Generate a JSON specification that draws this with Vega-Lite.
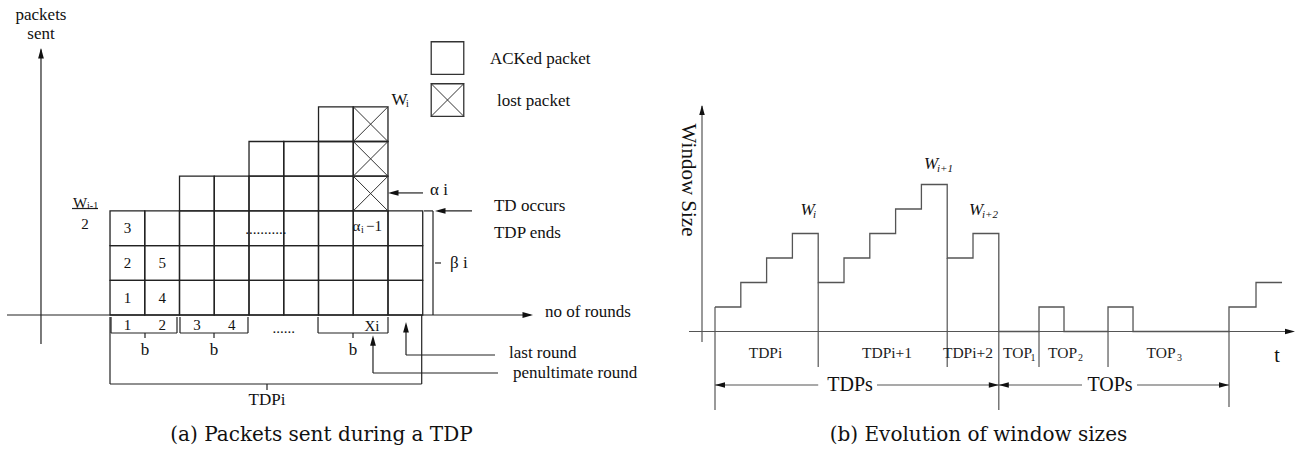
{
  "$schema": "https://vega.github.io/schema/vega-lite/v6.json",
  "padding": 0,
  "spacing": 0,
  "background": "white",
  "config": {"view": {"stroke": null}},
  "datasets": {
    "cells": [
      {"rnd":1,"pkt":1,"status":"ACKed"},{"rnd":1,"pkt":2,"status":"ACKed"},{"rnd":1,"pkt":3,"status":"ACKed"},
      {"rnd":2,"pkt":1,"status":"ACKed"},{"rnd":2,"pkt":2,"status":"ACKed"},{"rnd":2,"pkt":3,"status":"ACKed"},
      {"rnd":3,"pkt":1,"status":"ACKed"},{"rnd":3,"pkt":2,"status":"ACKed"},{"rnd":3,"pkt":3,"status":"ACKed"},{"rnd":3,"pkt":4,"status":"ACKed"},
      {"rnd":4,"pkt":1,"status":"ACKed"},{"rnd":4,"pkt":2,"status":"ACKed"},{"rnd":4,"pkt":3,"status":"ACKed"},{"rnd":4,"pkt":4,"status":"ACKed"},
      {"rnd":5,"pkt":1,"status":"ACKed"},{"rnd":5,"pkt":2,"status":"ACKed"},{"rnd":5,"pkt":3,"status":"ACKed"},{"rnd":5,"pkt":4,"status":"ACKed"},{"rnd":5,"pkt":5,"status":"ACKed"},
      {"rnd":6,"pkt":1,"status":"ACKed"},{"rnd":6,"pkt":2,"status":"ACKed"},{"rnd":6,"pkt":3,"status":"ACKed"},{"rnd":6,"pkt":4,"status":"ACKed"},{"rnd":6,"pkt":5,"status":"ACKed"},
      {"rnd":7,"pkt":1,"status":"ACKed"},{"rnd":7,"pkt":2,"status":"ACKed"},{"rnd":7,"pkt":3,"status":"ACKed"},{"rnd":7,"pkt":4,"status":"ACKed"},{"rnd":7,"pkt":5,"status":"ACKed"},{"rnd":7,"pkt":6,"status":"ACKed"},
      {"rnd":8,"pkt":1,"status":"ACKed"},{"rnd":8,"pkt":2,"status":"ACKed"},{"rnd":8,"pkt":3,"status":"ACKed"},{"rnd":8,"pkt":4,"status":"lost"},{"rnd":8,"pkt":5,"status":"lost"},{"rnd":8,"pkt":6,"status":"lost"},
      {"rnd":9,"pkt":1,"status":"ACKed"},{"rnd":9,"pkt":2,"status":"ACKed"},{"rnd":9,"pkt":3,"status":"ACKed"}
    ],
    "legendA": [
      {"rnd":10.212,"pkt":7.906,"status":"ACKed"},
      {"rnd":10.212,"pkt":6.696,"status":"lost"}
    ],
    "linesA": [
      {"rnd":-2.464,"pkt":0.5,"rnd2":12.6,"pkt2":0.5},
      {"rnd":-1.486,"pkt":-0.336,"rnd2":-1.486,"pkt2":8.15},
      {"rnd":0.529,"pkt":0.442,"rnd2":0.529,"pkt2":-0.019},
      {"rnd":0.529,"pkt":-0.019,"rnd2":2.428,"pkt2":-0.019},
      {"rnd":2.428,"pkt":0.442,"rnd2":2.428,"pkt2":-0.019},
      {"rnd":1.507,"pkt":-0.019,"rnd2":1.507,"pkt2":-0.163},
      {"rnd":2.514,"pkt":0.442,"rnd2":2.514,"pkt2":-0.019},
      {"rnd":2.514,"pkt":-0.019,"rnd2":4.471,"pkt2":-0.019},
      {"rnd":4.471,"pkt":0.442,"rnd2":4.471,"pkt2":-0.019},
      {"rnd":3.493,"pkt":-0.019,"rnd2":3.493,"pkt2":-0.163},
      {"rnd":6.486,"pkt":0.442,"rnd2":6.486,"pkt2":-0.019},
      {"rnd":6.486,"pkt":-0.019,"rnd2":8.5,"pkt2":-0.019},
      {"rnd":8.5,"pkt":0.442,"rnd2":8.5,"pkt2":-0.019},
      {"rnd":7.493,"pkt":-0.019,"rnd2":7.493,"pkt2":-0.163},
      {"rnd":0.5,"pkt":0.442,"rnd2":0.5,"pkt2":-1.488},
      {"rnd":0.5,"pkt":-1.488,"rnd2":9.47,"pkt2":-1.488},
      {"rnd":9.47,"pkt":0.5,"rnd2":9.47,"pkt2":-1.488},
      {"rnd":5.018,"pkt":-1.488,"rnd2":5.018,"pkt2":-1.661},
      {"rnd":9.536,"pkt":3.5,"rnd2":9.795,"pkt2":3.5},
      {"rnd":9.795,"pkt":3.5,"rnd2":9.795,"pkt2":0.5},
      {"rnd":9.853,"pkt":1.999,"rnd2":10.026,"pkt2":1.999},
      {"rnd":10.917,"pkt":3.5,"rnd2":9.95,"pkt2":3.5},
      {"rnd":9.507,"pkt":4.018,"rnd2":8.6,"pkt2":4.018},
      {"rnd":9.018,"pkt":-0.653,"rnd2":9.018,"pkt2":0.2},
      {"rnd":9.018,"pkt":-0.653,"rnd2":11.579,"pkt2":-0.653},
      {"rnd":8.068,"pkt":-1.171,"rnd2":8.068,"pkt2":-0.18},
      {"rnd":8.068,"pkt":-1.171,"rnd2":11.665,"pkt2":-1.171},
      {"rnd":-0.593,"pkt":3.569,"rnd2":0.155,"pkt2":3.569}
    ],
    "arrowsA": [
      {"rnd":12.672,"pkt":0.5,"dir":"right"},
      {"rnd":-1.486,"pkt":8.194,"dir":"up"},
      {"rnd":8.5,"pkt":4.018,"dir":"left"},
      {"rnd":9.853,"pkt":3.5,"dir":"left"},
      {"rnd":9.018,"pkt":0.298,"dir":"up"},
      {"rnd":8.068,"pkt":-0.082,"dir":"up"}
    ],
    "textA17L": [
      {"rnd":11.435,"pkt":7.878,"label":"ACKed packet"},
      {"rnd":11.637,"pkt":6.667,"label":"lost packet"},
      {"rnd":11.55,"pkt":3.641,"label":"TD occurs"},
      {"rnd":11.55,"pkt":2.863,"label":"TDP ends"},
      {"rnd":13.018,"pkt":0.586,"label":"no of rounds"},
      {"rnd":11.982,"pkt":-0.596,"label":"last round"},
      {"rnd":12.097,"pkt":-1.173,"label":"penultimate round"},
      {"rnd":10.284,"pkt":1.999,"label":"β i"},
      {"rnd":9.708,"pkt":4.102,"label":"α i"}
    ],
    "textA17C": [
      {"rnd":-1.486,"pkt":9.146,"label":"packets"},
      {"rnd":-1.486,"pkt":8.598,"label":"sent"},
      {"rnd":1.507,"pkt":-0.509,"label":"b"},
      {"rnd":3.493,"pkt":-0.509,"label":"b"},
      {"rnd":7.493,"pkt":-0.509,"label":"b"},
      {"rnd":5.018,"pkt":-1.95,"label":"TDPi"},
      {"rnd":8.83,"pkt":6.696,"label":"W"}
    ],
    "textA15C": [
      {"rnd":1,"pkt":1,"label":"1"},
      {"rnd":1,"pkt":2,"label":"2"},
      {"rnd":1,"pkt":3,"label":"3"},
      {"rnd":2,"pkt":1,"label":"4"},
      {"rnd":2,"pkt":2,"label":"5"},
      {"rnd":1,"pkt":0.212,"label":"1"},
      {"rnd":2,"pkt":0.212,"label":"2"},
      {"rnd":3,"pkt":0.212,"label":"3"},
      {"rnd":4,"pkt":0.212,"label":"4"},
      {"rnd":-0.219,"pkt":3.122,"label":"2"},
      {"rnd":-0.363,"pkt":3.728,"label":"W"},
      {"rnd":7.594,"pkt":3.065,"label":"α"},
      {"rnd":8.097,"pkt":3.065,"label":"−1"},
      {"rnd":5.5,"pkt":0.125,"label":"......"},
      {"rnd":4.989,"pkt":2.978,"label":"..........."},
      {"rnd":8.04,"pkt":0.183,"label":"Xi"}
    ],
    "subA": [
      {"rnd":9.018,"pkt":6.581,"label":"i"},
      {"rnd":-0.16,"pkt":3.641,"label":"i-1"},
      {"rnd":7.723,"pkt":2.95,"label":"i"}
    ],
    "captionA": [{"rnd":6.586,"pkt":-2.958,"label":"(a) Packets sent during a TDP"}],
    "window": [
      {"time":0,"win":1},{"time":1,"win":2},{"time":2,"win":3},{"time":3,"win":4},
      {"time":4,"win":2},{"time":5,"win":3},{"time":6,"win":4},{"time":7,"win":5},{"time":8,"win":6},
      {"time":9,"win":3},{"time":10,"win":4},{"time":11,"win":0},
      {"time":12.558,"win":1},{"time":13.527,"win":0},
      {"time":15.233,"win":1},{"time":16.202,"win":0},
      {"time":19.922,"win":1},{"time":20.969,"win":2},{"time":21.977,"win":2}
    ],
    "linesB": [
      {"time":-0.504,"win":-0.429,"time2":-0.504,"win2":9.2},
      {"time":-1.008,"win":0,"time2":22.4,"win2":0},
      {"time":0,"win":1,"time2":0,"win2":-3.204},
      {"time":4,"win":2,"time2":4,"win2":-1.449},
      {"time":9,"win":3,"time2":9,"win2":-1.449},
      {"time":11,"win":0,"time2":11,"win2":-3.204},
      {"time":12.558,"win":0,"time2":12.558,"win2":-1.449},
      {"time":15.233,"win":0,"time2":15.233,"win2":-1.449},
      {"time":19.922,"win":0,"time2":19.922,"win2":-3.082},
      {"time":0,"win":-2.184,"time2":4,"win2":-2.184},
      {"time":6.279,"win":-2.184,"time2":11,"win2":-2.184},
      {"time":11,"win":-2.184,"time2":14.225,"win2":-2.184},
      {"time":16.357,"win":-2.184,"time2":19.922,"win2":-2.184}
    ],
    "arrowsB": [
      {"time":-0.504,"win":9.245,"dir":"up"},
      {"time":22.481,"win":0,"dir":"right"},
      {"time":0,"win":-2.184,"dir":"left"},
      {"time":11,"win":-2.184,"dir":"right"},
      {"time":11,"win":-2.184,"dir":"left"},
      {"time":19.922,"win":-2.184,"dir":"right"}
    ],
    "textB15": [
      {"time":1.957,"win":-0.878,"label":"TDPi"},
      {"time":6.667,"win":-0.878,"label":"TDPi+1"},
      {"time":9.806,"win":-0.878,"label":"TDPi+2"},
      {"time":11.725,"win":-0.878,"label":"TOP"},
      {"time":13.469,"win":-0.878,"label":"TOP"},
      {"time":17.287,"win":-0.878,"label":"TOP"}
    ],
    "subB": [
      {"time":12.326,"win":-1.082,"label":"1"},
      {"time":14.167,"win":-1.082,"label":"2"},
      {"time":18.004,"win":-1.082,"label":"3"}
    ],
    "textB20": [
      {"time":21.783,"win":-1.0,"label":"t"},
      {"time":5.233,"win":-2.184,"label":"TDPs"},
      {"time":15.31,"win":-2.184,"label":"TOPs"}
    ],
    "ytitleB": [{"time":-1.047,"win":6.184,"label":"Window Size"}],
    "wlabels": [
      {"time":3.585,"win":4.959,"label":"W"},
      {"time":8.372,"win":6.837,"label":"W"},
      {"time":10.116,"win":4.959,"label":"W"}
    ],
    "wsubs": [
      {"time":3.798,"win":4.755,"label":"i"},
      {"time":8.605,"win":6.633,"label":"i+1"},
      {"time":10.349,"win":4.755,"label":"i+2"}
    ],
    "captionB": [{"time":10.213,"win":-4.224,"label":"(b) Evolution of window sizes"}]
  },
  "hconcat": [
    {
      "width": 648,
      "height": 452,
      "encoding": {
        "x": {"field":"rnd","type":"quantitative","scale":{"domain":[-2.6655,15.982],"nice":false,"zero":false},"axis":null},
        "y": {"field":"pkt","type":"quantitative","scale":{"domain":[-3.448,9.578],"nice":false,"zero":false},"axis":null}
      },
      "layer": [
        {
          "data": {"name":"cells"},
          "mark": {"type":"point","shape":"square","size":1205,"filled":false,"stroke":"#222","strokeWidth":1.3,"opacity":1}
        },
        {
          "data": {"name":"cells"},
          "transform": [{"filter":"datum.status === 'lost'"}],
          "mark": {"type":"point","shape":"M-1,-1L1,1M1,-1L-1,1","size":1205,"filled":false,"stroke":"#333","strokeWidth":1,"opacity":1}
        },
        {
          "data": {"name":"legendA"},
          "mark": {"type":"point","shape":"square","size":1060,"filled":false,"stroke":"#333","strokeWidth":1.3,"opacity":1}
        },
        {
          "data": {"name":"legendA"},
          "transform": [{"filter":"datum.status === 'lost'"}],
          "mark": {"type":"point","shape":"M-1,-1L1,1M1,-1L-1,1","size":1060,"filled":false,"stroke":"#333","strokeWidth":1,"opacity":1}
        },
        {
          "data": {"name":"linesA"},
          "mark": {"type":"rule","stroke":"#222","strokeWidth":1.2},
          "encoding": {"x2":{"field":"rnd2"},"y2":{"field":"pkt2"}}
        },
        {
          "data": {"name":"arrowsA"},
          "mark": {"type":"point","filled":true,"size":110,"opacity":1,"color":"#111","strokeWidth":0},
          "encoding": {"shape":{"field":"dir","type":"nominal","legend":null,"scale":{"domain":["right","left","up"],"range":["M0,0L-2,-0.55L-2,0.55Z","M0,0L2,-0.55L2,0.55Z","M0,0L-0.55,2L0.55,2Z"]}}}
        },
        {
          "data": {"name":"textA17L"},
          "mark": {"type":"text","font":"Liberation Serif","fontSize":17,"align":"left","baseline":"middle","color":"#111"},
          "encoding": {"text":{"field":"label"}}
        },
        {
          "data": {"name":"textA17C"},
          "mark": {"type":"text","font":"Liberation Serif","fontSize":17,"align":"center","baseline":"middle","color":"#111"},
          "encoding": {"text":{"field":"label"}}
        },
        {
          "data": {"name":"textA15C"},
          "mark": {"type":"text","font":"Liberation Serif","fontSize":15,"align":"center","baseline":"middle","color":"#111"},
          "encoding": {"text":{"field":"label"}}
        },
        {
          "data": {"name":"subA"},
          "mark": {"type":"text","font":"Liberation Serif","fontSize":10,"align":"left","baseline":"middle","color":"#111"},
          "encoding": {"text":{"field":"label"}}
        },
        {
          "data": {"name":"captionA"},
          "mark": {"type":"text","font":"DejaVu Serif","fontSize":20,"align":"center","baseline":"middle","color":"#111"},
          "encoding": {"text":{"field":"label"}}
        }
      ]
    },
    {
      "width": 648,
      "height": 452,
      "encoding": {
        "x": {"field":"time","type":"quantitative","scale":{"domain":[-2.597,22.519],"nice":false,"zero":false},"axis":null},
        "y": {"field":"win","type":"quantitative","scale":{"domain":[-4.918,13.531],"nice":false,"zero":false},"axis":null}
      },
      "layer": [
        {
          "data": {"name":"window"},
          "mark": {"type":"line","interpolate":"step-after","stroke":"#555","strokeWidth":1.3}
        },
        {
          "data": {"name":"linesB"},
          "mark": {"type":"rule","stroke":"#555","strokeWidth":1.2},
          "encoding": {"x2":{"field":"time2"},"y2":{"field":"win2"}}
        },
        {
          "data": {"name":"arrowsB"},
          "mark": {"type":"point","filled":true,"size":100,"opacity":1,"color":"#111","strokeWidth":0},
          "encoding": {"shape":{"field":"dir","type":"nominal","legend":null,"scale":{"domain":["right","left","up"],"range":["M0,0L-2,-0.5L-2,0.5Z","M0,0L2,-0.5L2,0.5Z","M0,0L-0.55,2L0.55,2Z"]}}}
        },
        {
          "data": {"name":"textB15"},
          "mark": {"type":"text","font":"Liberation Serif","fontSize":15.5,"align":"center","baseline":"middle","color":"#222"},
          "encoding": {"text":{"field":"label"}}
        },
        {
          "data": {"name":"subB"},
          "mark": {"type":"text","font":"Liberation Serif","fontSize":10,"align":"center","baseline":"middle","color":"#222"},
          "encoding": {"text":{"field":"label"}}
        },
        {
          "data": {"name":"textB20"},
          "mark": {"type":"text","font":"Liberation Serif","fontSize":20,"align":"center","baseline":"middle","color":"#111"},
          "encoding": {"text":{"field":"label"}}
        },
        {
          "data": {"name":"ytitleB"},
          "mark": {"type":"text","font":"Liberation Serif","fontSize":21,"align":"center","baseline":"middle","angle":90,"color":"#111"},
          "encoding": {"text":{"field":"label"}}
        },
        {
          "data": {"name":"wlabels"},
          "mark": {"type":"text","font":"Liberation Serif","fontSize":17,"fontStyle":"italic","align":"center","baseline":"middle","color":"#111"},
          "encoding": {"text":{"field":"label"}}
        },
        {
          "data": {"name":"wsubs"},
          "mark": {"type":"text","font":"Liberation Serif","fontSize":11,"fontStyle":"italic","align":"left","baseline":"middle","color":"#111"},
          "encoding": {"text":{"field":"label"}}
        },
        {
          "data": {"name":"captionB"},
          "mark": {"type":"text","font":"DejaVu Serif","fontSize":20,"align":"center","baseline":"middle","color":"#111"},
          "encoding": {"text":{"field":"label"}}
        }
      ]
    }
  ]
}
